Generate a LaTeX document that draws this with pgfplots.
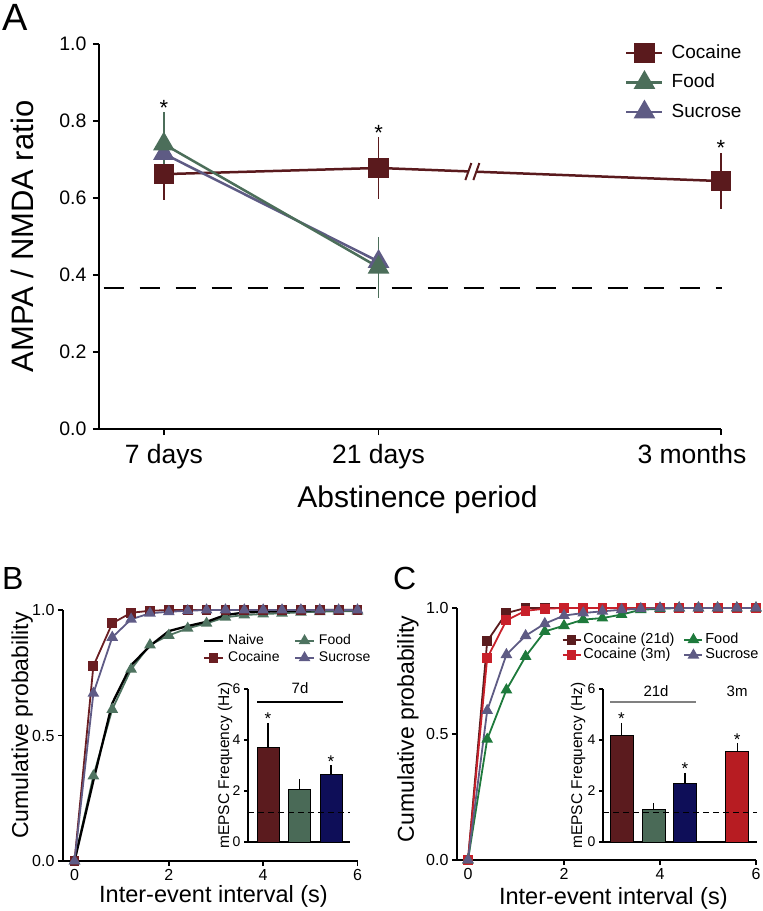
\documentclass[border=0pt]{standalone}
\usepackage{pgfplots}
\usepackage{pgfplotstable}
\pgfplotsset{compat=1.18}
\usepackage{fontspec}
\setmainfont{Liberation Sans}
\definecolor{cocA}{HTML}{5A1A1D}
\definecolor{foodA}{HTML}{4C6E5A}
\definecolor{sucA}{HTML}{5E5B84}
\definecolor{cocB}{HTML}{6A1E22}
\definecolor{foodB}{HTML}{4E7360}
\definecolor{sucB}{HTML}{5F5B86}
\definecolor{cocC}{HTML}{5A1C1E}
\definecolor{cocM}{HTML}{C8202A}
\definecolor{foodC}{HTML}{1E7A3C}
\definecolor{barcoc}{HTML}{5B1B1E}
\definecolor{barfood}{HTML}{4A6A57}
\definecolor{barsuc}{HTML}{0E0E58}
\definecolor{barcocM}{HTML}{B71C22}
\newcommand{\fs}[1]{\fontsize{#1bp}{#1bp}\selectfont}

\pgfplotstableread{
x    naive food  coc   suc
0    0     0     0     0
0.4  0.32  0.339 0.777 0.668
0.8  0.628 0.604 0.947 0.891
1.2  0.78  0.764 0.989 0.963
1.6  0.857 0.861 0.997 0.987
2.0  0.916 0.899 1     0.993
2.4  0.936 0.927 1     0.997
2.8  0.953 0.947 1     1
3.2  0.98  0.971 1     1
3.6  0.99  0.98  1     1
4.0  0.993 0.984 1     1
4.4  0.995 0.987 1     1
4.8  0.997 0.991 1     1
5.2  1     0.993 1     1
5.6  1     0.995 1     1
6.0  1     0.995 1     1
}\tabB

\pgfplotstableread{
x    coc21 cocm  suc   food
0    0     0     0     0
0.4  0.868 0.801 0.593 0.479
0.8  0.98  0.951 0.815 0.675
1.2  1     0.989 0.89  0.808
1.6  1     0.997 0.938 0.907
2.0  1     1     0.97  0.93
2.4  1     1     0.98  0.954
2.8  1     1     0.987 0.96
3.2  1     1     0.993 0.974
3.6  1     1     0.997 0.993
4.0  1     1     1     0.997
4.4  1     1     1     1
4.8  1     1     1     1
5.2  1     1     1     1
5.6  1     1     1     1
6.0  1     1     1     1
}\tabC

\pgfplotsset{
  base/.style={
    scale only axis, anchor=south west,
    axis x line*=bottom, axis y line*=left,
    axis line style={line width=1.6bp, black},
    tick align=outside, major tick length=6bp,
    tick style={line width=1.6bp, black},
    /pgf/number format/assume math mode=true,
    clip=false,
  },
  onedec/.style={y tick label style={/pgf/number format/fixed, /pgf/number format/fixed zerofill, /pgf/number format/precision=1}},
  inset/.style={base, ymin=0, ymax=6, ytick={0,2,4,6}, xtick=\empty, height=153bp,
    axis line style={line width=1.1bp}, tick style={line width=1.1bp}, major tick length=4bp,
    y tick label style={font=\fs{14}},
    ylabel={mEPSC Frequency (Hz)}, ylabel style={font=\fs{15.5}, anchor=center}},
  bars/.style={ybar, bar shift=0pt, bar width=22bp, draw=black, line width=0.5bp, fill=#1,
    error bars/y dir=plus, error bars/y explicit, error bars/error mark=none,
    error bars/error bar style={line width=1.1bp, black}},
  cum/.style={line width=1.8bp, mark options={solid}},
}

\begin{document}
\begin{tikzpicture}
\useasboundingbox (0,0) rectangle (763bp,-911bp);

\node[anchor=north west, inner sep=0pt, font=\fs{38}] at (2bp,-4bp) {A};
\node[anchor=north west, inner sep=0pt, font=\fs{32}] at (2bp,-567bp) {B};
\node[anchor=north west, inner sep=0pt, font=\fs{32}] at (393bp,-567bp) {C};

% ---------------- Panel A ----------------
\begin{axis}[base, at={(99bp,-429bp)}, width=622bp, height=385bp,
  xmin=0.698, xmax=3.595, ymin=0, ymax=1,
  ytick={0,0.2,0.4,0.6,0.8,1.0}, onedec,
  y tick label style={font=\fs{19.5}, xshift=-3bp},
  xtick={1,2}, xticklabels={7 days,21 days},
  x tick label style={font=\fs{26.5}, yshift=-6bp},
  extra x ticks={3.595}, extra x tick labels={3 months},
  extra x tick style={tick label style={xshift=-29bp}},
  xlabel={Abstinence period},
  xlabel style={font=\fs{30}, at={(axis description cs:0.512,-0.184)}, anchor=center},
  ylabel={AMPA / NMDA ratio},
  ylabel style={font=\fs{31}, at={(axis description cs:-0.123,0.5)}, anchor=center},
  legend style={draw=none, fill=none, inner sep=0pt, outer sep=0pt, font=\fs{19},
    at={(axis description cs:0.846,1.005)}, anchor=north west, row sep=7.5bp, column sep=6bp,
    nodes={inner sep=2bp, text height=14bp, text depth=4bp}},
  legend cell align=left,
  legend image code/.code={\draw[mark repeat=2,mark phase=2] plot coordinates {(0bp,0bp) (18bp,0bp) (36bp,0bp)};},
]
\addplot[black, line width=1.8bp, dash pattern=on 20bp off 16bp, forget plot] coordinates {(0.72,0.366) (3.6,0.366)};
\addplot[cocA, line width=2.5bp, mark=square*, mark size=9bp, mark options={solid}, forget plot,
  error bars/.cd, y dir=both, y explicit, error mark=none, error bar style={line width=1.5bp}]
  coordinates {(1,0.662) +- (0,0.067) (2,0.678) +- (0,0.08) (3.595,0.644) +- (0,0.073)};
\fill[white] (axis cs:2.437,0.6687) ++(-4bp,-3bp) rectangle ++(8bp,6bp);
\draw[cocA, line width=2bp] (axis cs:2.437,0.6687) ++(-7bp,-8.5bp) -- ++(6bp,17bp);
\draw[cocA, line width=2bp] (axis cs:2.437,0.6687) ++(1bp,-8.5bp) -- ++(6bp,17bp);
\addplot[sucA, line width=2.5bp, mark=triangle*, mark size=10bp, mark options={solid}, forget plot,
  error bars/.cd, y dir=both, y explicit, error mark=none, error bar style={line width=1.5bp}]
  coordinates {(1,0.715) +- (0,0.02) (2,0.435) +- (0,0.02)};
\addplot[foodA, line width=2.5bp, mark=triangle*, mark size=10bp, mark options={solid}, forget plot,
  error bars/.cd, y dir=both, y explicit, error mark=none, error bar style={line width=1.5bp}]
  coordinates {(1,0.74) +- (0,0.083) (2,0.42) +- (0,0.08)};
\node[font=\fs{22}, anchor=base, inner sep=0pt, yshift=-3bp] at (axis cs:1,0.823) {*};
\node[font=\fs{22}, anchor=base, inner sep=0pt, yshift=-3bp] at (axis cs:2,0.758) {*};
\node[font=\fs{22}, anchor=base, inner sep=0pt, yshift=-3bp] at (axis cs:3.595,0.717) {*};
\addlegendimage{cocA, line width=2.5bp, mark=square*, mark size=9bp, mark options={solid}}
\addlegendentry{Cocaine}
\addlegendimage{foodA, line width=2.5bp, mark=triangle*, mark size=10bp, mark options={solid}}
\addlegendentry{Food}
\addlegendimage{sucA, line width=2.5bp, mark=triangle*, mark size=10bp, mark options={solid}}
\addlegendentry{Sucrose}
\end{axis}

% ---------------- Panel B ----------------
\begin{axis}[base, at={(63bp,-861bp)}, width=294.5bp, height=251bp,
  xmin=-0.244, xmax=6, ymin=0, ymax=1, xtick={0,2,4,6}, ytick={0,0.5,1}, onedec,
  axis line style={line width=1.4bp}, tick style={line width=1.4bp}, major tick length=5bp,
  tick label style={font=\fs{16}},
  xlabel={Inter-event interval (s)},
  xlabel style={font=\fs{23.5}, at={(axis description cs:0.511,-0.143)}, anchor=center},
  ylabel={Cumulative probability},
  ylabel style={font=\fs{23}, at={(axis description cs:-0.139,0.54)}, anchor=center},
  legend columns=2,
  legend style={draw=none, fill=none, inner sep=0pt, outer sep=0pt, font=\fs{14},
    at={(axis description cs:0.475,0.908)}, anchor=north west, row sep=1.5bp, column sep=3bp,
    nodes={inner sep=1bp, text height=10.5bp, text depth=3bp},
    /tikz/every even column/.append style={column sep=13.6bp}},
  legend cell align=left,
  legend image code/.code={\draw[mark repeat=2,mark phase=2] plot coordinates {(0bp,0bp) (9.5bp,0bp) (19bp,0bp)};},
]
\addplot[foodB, cum, mark=triangle*, mark size=5bp, forget plot] table[x=x,y=food]{\tabB};
\addplot[black, line width=2.3bp, forget plot] table[x=x,y=naive]{\tabB};
\addplot[cocB, cum, mark=square*, mark size=4bp, forget plot] table[x=x,y=coc]{\tabB};
\addplot[sucB, cum, mark=triangle*, mark size=5bp, forget plot] table[x=x,y=suc]{\tabB};
\addlegendimage{black, line width=2.3bp}
\addlegendentry{Naive}
\addlegendimage{foodB, cum, mark=triangle*, mark size=5bp}
\addlegendentry{Food}
\addlegendimage{cocB, cum, mark=square*, mark size=4bp}
\addlegendentry{Cocaine}
\addlegendimage{sucB, cum, mark=triangle*, mark size=5bp}
\addlegendentry{Sucrose}
\end{axis}

% inset B
\begin{axis}[inset, at={(248bp,-842bp)}, width=102bp, xmin=0.365, xmax=3.603,
  ylabel style={at={(axis description cs:-0.225,0.5)}}]
\addplot[bars=barcoc] coordinates {(1,3.72) +- (0,0.95)};
\addplot[bars=barfood] coordinates {(2,2.08) +- (0,0.39)};
\addplot[bars=barsuc] coordinates {(3,2.67) +- (0,0.35)};
\addplot[black, line width=0.8bp, dash pattern=on 6bp off 4bp] coordinates {(0.365,1.18) (3.603,1.18)};
\addplot[black, line width=1.2bp] coordinates {(0.651,5.49) (3.381,5.49)};
\node[font=\fs{15}, anchor=base] at (axis cs:2.016,5.82) {7d};
\node[font=\fs{17}, anchor=base, inner sep=0pt, yshift=-2bp] at (axis cs:1,4.67) {*};
\node[font=\fs{17}, anchor=base, inner sep=0pt, yshift=-2bp] at (axis cs:3,3.02) {*};
\end{axis}

% ---------------- Panel C ----------------
\begin{axis}[base, at={(457bp,-860bp)}, width=299bp, height=252bp,
  xmin=-0.229, xmax=6, ymin=0, ymax=1, xtick={0,2,4,6}, ytick={0,0.5,1}, onedec,
  axis line style={line width=1.4bp}, tick style={line width=1.4bp}, major tick length=5bp,
  tick label style={font=\fs{16}},
  xlabel={Inter-event interval (s)},
  xlabel style={font=\fs{23.5}, at={(axis description cs:0.523,-0.151)}, anchor=center},
  ylabel={Cumulative probability},
  ylabel style={font=\fs{23}, at={(axis description cs:-0.164,0.52)}, anchor=center},
  legend columns=2,
  legend style={draw=none, fill=none, inner sep=0pt, outer sep=0pt, font=\fs{14.5},
    at={(axis description cs:0.350,0.905)}, anchor=north west, row sep=0bp, column sep=1bp,
    nodes={inner sep=1bp, text height=10.5bp, text depth=3bp},
    /tikz/every even column/.append style={column sep=8bp}},
  legend cell align=left,
  legend image code/.code={\draw[mark repeat=2,mark phase=2] plot coordinates {(0bp,0bp) (9bp,0bp) (18bp,0bp)};},
]
\addplot[cocC, cum, mark=square*, mark size=4bp, forget plot] table[x=x,y=coc21]{\tabC};
\addplot[cocM, cum, mark=square*, mark size=4bp, forget plot] table[x=x,y=cocm]{\tabC};
\addplot[foodC, cum, mark=triangle*, mark size=5bp, forget plot] table[x=x,y=food]{\tabC};
\addplot[sucA, cum, mark=triangle*, mark size=5bp, forget plot] table[x=x,y=suc]{\tabC};
\addlegendimage{cocC, cum, mark=square*, mark size=4bp}
\addlegendentry{Cocaine (21d)}
\addlegendimage{foodC, cum, mark=triangle*, mark size=5bp}
\addlegendentry{Food}
\addlegendimage{cocM, cum, mark=square*, mark size=4bp}
\addlegendentry{Cocaine (3m)}
\addlegendimage{sucA, cum, mark=triangle*, mark size=5bp}
\addlegendentry{Sucrose}
\end{axis}

% inset C
\begin{axis}[inset, at={(603bp,-842bp)}, width=154bp, xmin=0.417, xmax=5.267,
  ylabel style={at={(axis description cs:-0.162,0.5)}}]
\addplot[bars=barcoc, bar width=23bp] coordinates {(1,4.2) +- (0,0.47)};
\addplot[bars=barfood, bar width=23bp] coordinates {(2,1.29) +- (0,0.24)};
\addplot[bars=barsuc, bar width=23bp] coordinates {(3,2.31) +- (0,0.40)};
\addplot[bars=barcocM, bar width=23bp] coordinates {(4.64,3.57) +- (0,0.30)};
\addplot[black, line width=0.8bp, dash pattern=on 6bp off 4bp] coordinates {(0.417,1.18) (5.267,1.18)};
\addplot[gray, line width=1.2bp] coordinates {(0.638,5.49) (3.346,5.49)};
\node[font=\fs{15}, anchor=base] at (axis cs:2.087,5.72) {21d};
\node[font=\fs{15}, anchor=base] at (axis cs:4.64,5.72) {3m};
\node[font=\fs{17}, anchor=base, inner sep=0pt, yshift=-2bp] at (axis cs:1,4.67) {*};
\node[font=\fs{17}, anchor=base, inner sep=0pt, yshift=-2bp] at (axis cs:3,2.71) {*};
\node[font=\fs{17}, anchor=base, inner sep=0pt, yshift=-2bp] at (axis cs:4.64,3.87) {*};
\end{axis}
\end{tikzpicture}
\end{document}
